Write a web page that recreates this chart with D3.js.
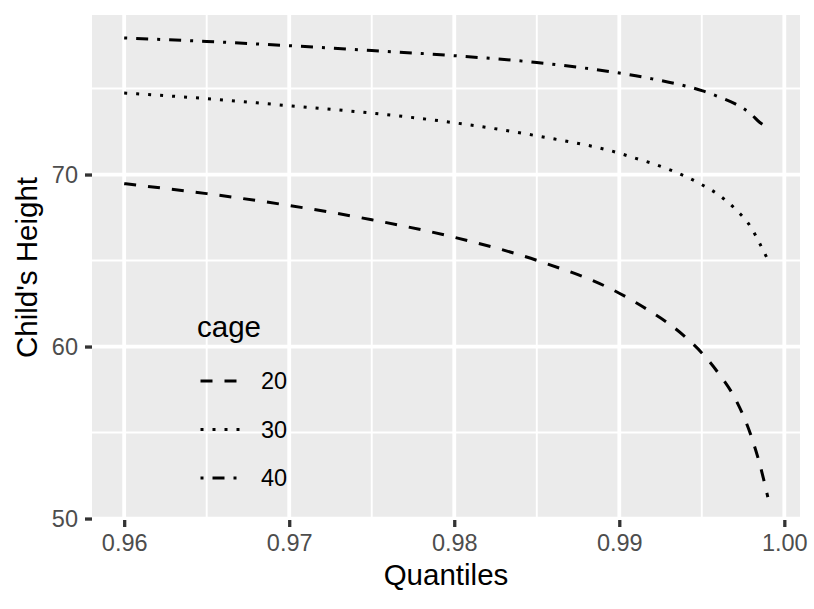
<!DOCTYPE html>
<html>
<head>
<meta charset="utf-8">
<script src="https://cdn.jsdelivr.net/npm/d3@7"></script>
<style>
  body { margin: 0; background: #fff; }
  text { font-family: "Liberation Sans", Arial, sans-serif; }
</style>
</head>
<body>
<div id="chart"></div>
<script>
// quantiles
const quantiles = [0.96, 0.965, 0.97, 0.975, 0.98, 0.985, 0.99, 0.991, 0.992, 0.993, 0.994, 0.995, 0.996, 0.997, 0.998, 0.9985, 0.999];
// child's height per cage
const cage20 = [69.47, 68.89, 68.2, 67.37, 66.35, 65.01, 63.1, 62.56, 61.97, 61.33, 60.56, 59.63, 58.46, 57.01, 54.77, 53.21, 51.25];
const cage30 = [74.74, 74.41, 74.0, 73.57, 73.01, 72.25, 71.24, 70.94, 70.65, 70.3, 69.9, 69.41, 68.83, 68.02, 66.9, 66.01, 65.05];
const cage40 = [77.94, 77.74, 77.49, 77.21, 76.91, 76.51, 75.9, 75.74, 75.56, 75.37, 75.15, 74.88, 74.53, 74.12, 73.5, 73.04, 72.72];
const cageLabels = ["20", "30", "40"];
const xTicks = [0.96, 0.97, 0.98, 0.99, 1.00];
const xMinor = [0.965, 0.975, 0.985, 0.995];
const yTicks = [50, 60, 70];
const yMinor = [55, 65, 75];

const width = 814, height = 609;
const panel = {left: 92, right: 800, top: 15, bottom: 520};
const lw = 3;
const dashes = [`${4*lw},${4*lw}`, `${lw},${3*lw}`, `${lw},${3*lw},${4*lw},${3*lw}`];

const series = [cage20, cage30, cage40].map((vals, i) => ({
  name: cageLabels[i],
  dash: dashes[i],
  pts: vals.map((v, j) => ({q: quantiles[j], h: v}))
}));

const svg = d3.select("#chart").append("svg")
  .attr("width", width)
  .attr("height", height);

// ggplot style 5% expansion
function expand(ext) {
  const d = (ext[1] - ext[0]) * 0.05;
  return [ext[0] - d, ext[1] + d];
}
const allH = cage20.concat(cage30, cage40);

const x = d3.scaleLinear()
  .domain(expand(d3.extent(quantiles)))
  .range([panel.left, panel.right]);
const y = d3.scaleLinear()
  .domain(expand(d3.extent(allH)))
  .range([panel.bottom, panel.top]);

svg.append("rect")
  .attr("x", panel.left).attr("y", panel.top)
  .attr("width", panel.right - panel.left)
  .attr("height", panel.bottom - panel.top)
  .attr("fill", "#EBEBEB");

// grid
const grid = svg.append("g");
grid.selectAll(".xmin").data(xMinor).enter().append("line")
  .attr("x1", d => x(d)).attr("x2", d => x(d))
  .attr("y1", panel.top).attr("y2", panel.bottom)
  .attr("stroke", "#fff").attr("stroke-width", 1.9);
grid.selectAll(".ymin").data(yMinor).enter().append("line")
  .attr("y1", d => y(d)).attr("y2", d => y(d))
  .attr("x1", panel.left).attr("x2", panel.right)
  .attr("stroke", "#fff").attr("stroke-width", 1.9);
grid.selectAll(".xmaj").data(xTicks).enter().append("line")
  .attr("x1", d => x(d)).attr("x2", d => x(d))
  .attr("y1", panel.top).attr("y2", panel.bottom)
  .attr("stroke", "#fff").attr("stroke-width", 3.8);
grid.selectAll(".ymaj").data(yTicks).enter().append("line")
  .attr("y1", d => y(d)).attr("y2", d => y(d))
  .attr("x1", panel.left).attr("x2", panel.right)
  .attr("stroke", "#fff").attr("stroke-width", 3.8);

// axes
const xAxis = d3.axisBottom(x).tickValues(xTicks).tickFormat(d3.format(".2f"))
  .tickSize(7).tickPadding(7);
const yAxis = d3.axisLeft(y).tickValues(yTicks).tickFormat(d3.format("d"))
  .tickSize(7).tickPadding(7);

const gx = svg.append("g")
  .attr("transform", `translate(0,${panel.bottom})`)
  .call(xAxis);
const gy = svg.append("g")
  .attr("transform", `translate(${panel.left},0)`)
  .call(yAxis);
[gx, gy].forEach(g => {
  g.select(".domain").remove();
  g.selectAll(".tick line").attr("stroke", "#333").attr("stroke-width", 3.3);
  g.selectAll(".tick text").attr("fill", "#4D4D4D")
    .style("font-size", "23.5px");
});
gx.selectAll(".tick text").attr("dy", "0.71em");
gy.selectAll(".tick text").attr("dy", "0.34em");

svg.append("text")
  .attr("x", (panel.left + panel.right) / 2)
  .attr("y", 585)
  .attr("text-anchor", "middle")
  .style("font-size", "29.5px")
  .text("Quantiles");

svg.append("text")
  .attr("transform", `translate(37,${(panel.top + panel.bottom) / 2}) rotate(-90)`)
  .attr("text-anchor", "middle")
  .style("font-size", "29.5px")
  .text("Child's Height");

// lines
const line = d3.line()
  .x(d => x(d.q))
  .y(d => y(d.h))
  .curve(d3.curveMonotoneX);

svg.append("g").selectAll("path")
  .data(series).enter().append("path")
  .attr("d", d => line(d.pts))
  .attr("fill", "none")
  .attr("stroke", "#000")
  .attr("stroke-width", lw)
  .attr("stroke-linecap", "butt")
  .attr("stroke-dasharray", d => d.dash);

// legend
const legend = svg.append("g").attr("transform", "translate(197,0)");
legend.append("text")
  .attr("x", 0).attr("y", 337)
  .style("font-size", "29.5px")
  .text("cage");
const rowY = d3.scalePoint().domain(cageLabels).range([381, 478]);
const rows = legend.selectAll(".row").data(series).enter().append("g")
  .attr("transform", d => `translate(0,${rowY(d.name)})`);
rows.append("line")
  .attr("x1", 3.5).attr("x2", 45)
  .attr("y1", 0).attr("y2", 0)
  .attr("stroke", "#000")
  .attr("stroke-width", lw)
  .attr("stroke-dasharray", d => d.dash);
rows.append("text")
  .attr("x", 64).attr("y", 0).attr("dy", "0.36em")
  .style("font-size", "23.5px")
  .text(d => d.name);
</script>
</body>
</html>
